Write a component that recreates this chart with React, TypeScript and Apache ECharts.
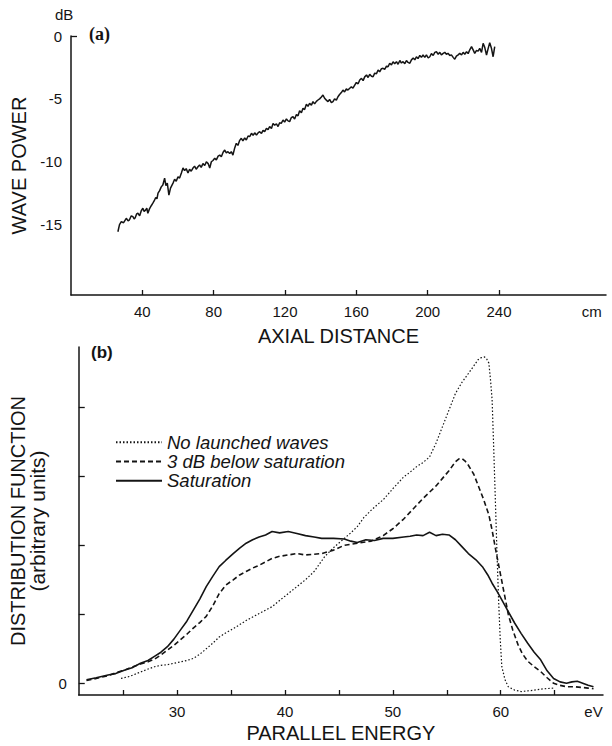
import React, { useEffect, useRef } from "react";
import * as echarts from "echarts";

const FONT = '"Liberation Sans", Arial, Helvetica, sans-serif';
const INK = "#141414";

// ---- panel (a) ----
const axialTicks = [40, 80, 120, 160, 200, 240];
const axialUnitPos = 292;
const dbLabels = [0, -5, -10, -15];
const dbTicks = [0];

// [axial distance (cm), wave power (dB)]
const wavePower: [number, number][] = [
  [26.3, -15.57], [27.2, -15.0], [28.2, -14.77], [29.5, -14.85], [31.0, -14.5], [32.0, -14.7],
  [32.8, -14.62], [33.8, -14.3], [34.7, -14.37], [35.4, -14.55], [36.0, -14.45], [36.8, -14.15],
  [37.5, -14.1], [38.5, -14.3], [39.4, -13.9], [40.3, -13.7], [41.0, -13.95], [41.8, -13.85],
  [42.5, -13.7], [43.1, -14.1], [44.0, -13.75], [45.0, -13.5], [45.9, -13.3], [46.7, -13.1],
  [47.5, -12.85], [48.2, -12.95], [48.8, -12.5], [49.7, -12.3], [50.6, -12.0], [51.5, -11.85],
  [52.5, -11.3], [53.2, -11.9], [54.0, -11.7], [54.9, -12.65], [55.8, -12.1], [57.2, -11.7],
  [58.1, -11.4], [59.0, -11.55], [60.0, -11.2], [60.9, -11.3], [61.9, -10.9], [62.8, -10.5],
  [63.7, -10.7], [64.6, -10.55], [65.6, -10.9], [66.5, -10.6], [67.4, -10.75], [68.4, -10.5],
  [69.3, -10.35], [70.2, -10.6], [71.2, -10.4], [72.1, -10.26], [73.0, -10.45], [74.0, -10.15],
  [75.0, -10.3], [75.9, -10.0], [76.9, -10.15], [77.8, -10.5], [78.7, -10.0], [79.6, -9.9],
  [80.6, -9.73], [81.5, -9.85], [82.5, -9.55], [83.4, -9.47], [84.3, -9.6], [85.3, -9.25],
  [86.2, -9.07], [87.1, -9.3], [88.0, -9.2], [89.0, -9.35], [89.9, -9.2], [90.8, -9.47],
  [91.8, -8.9], [92.7, -8.54], [93.6, -8.7], [94.6, -8.3], [95.5, -8.14], [96.4, -8.35],
  [97.4, -8.1], [98.3, -8.27], [99.3, -7.95], [100.2, -8.0], [101.2, -7.74], [102.1, -7.9],
  [103.0, -7.7], [104.0, -7.88], [104.9, -7.7], [105.8, -7.61], [106.8, -7.75], [107.7, -7.5],
  [108.6, -7.6], [109.6, -7.34], [110.5, -7.45], [111.4, -7.2], [112.4, -7.35], [113.3, -6.95],
  [114.2, -7.1], [115.2, -6.98], [116.1, -7.2], [117.0, -6.9], [117.9, -6.95], [118.9, -6.68],
  [119.8, -6.85], [120.8, -6.6], [121.7, -6.75], [122.6, -6.81], [123.5, -6.5], [124.5, -6.42],
  [125.4, -6.6], [126.4, -6.25], [127.3, -6.35], [128.2, -5.95], [129.2, -6.1], [130.1, -5.75],
  [131.0, -5.85], [132.0, -5.42], [132.9, -5.6], [133.8, -5.35], [134.8, -5.5], [135.7, -5.22],
  [136.6, -5.4], [137.6, -5.2], [138.5, -5.09], [139.4, -5.0], [140.4, -4.85], [141.3, -4.69],
  [142.2, -4.95], [143.2, -5.1], [144.1, -5.22], [145.0, -5.05], [146.0, -5.3], [146.9, -5.22],
  [147.8, -5.0], [148.8, -5.1], [149.7, -4.83], [150.6, -4.65], [151.6, -4.5], [152.5, -4.3],
  [153.4, -4.45], [154.4, -4.2], [155.3, -4.3], [156.3, -4.16], [157.2, -4.05], [158.1, -4.15],
  [159.1, -3.9], [160.0, -3.7], [161.0, -3.8], [161.9, -3.5], [162.9, -3.37], [163.8, -3.55],
  [164.7, -3.25], [165.7, -3.1], [166.6, -3.3], [167.5, -3.05], [168.5, -3.2], [169.4, -3.24],
  [170.3, -2.95], [171.3, -3.0], [172.2, -2.7], [173.1, -2.85], [174.1, -2.6], [175.0, -2.57],
  [175.9, -2.65], [176.9, -2.4], [177.8, -2.45], [178.7, -2.17], [179.7, -2.3], [180.6, -2.05],
  [181.5, -2.2], [182.5, -2.04], [183.4, -2.25], [184.4, -1.95], [185.3, -2.15], [186.2, -2.04],
  [187.2, -2.2], [188.1, -1.95], [189.0, -2.1], [190.0, -2.17], [190.9, -1.9], [191.9, -1.75],
  [192.8, -1.9], [193.7, -1.65], [194.6, -1.8], [195.6, -1.55], [196.5, -1.7], [197.4, -1.51],
  [198.4, -1.7], [199.3, -1.5], [200.3, -1.75], [201.2, -1.65], [202.1, -1.4], [203.1, -1.55],
  [204.0, -1.3], [204.9, -1.25], [205.9, -1.45], [206.8, -1.3], [207.7, -1.5], [208.7, -1.38],
  [209.6, -1.3], [210.5, -1.45], [211.4, -1.38], [212.4, -1.55], [213.3, -1.5], [214.3, -1.7],
  [215.2, -1.85], [216.1, -1.6], [217.1, -1.5], [218.0, -1.38], [219.0, -1.5], [219.9, -1.3],
  [220.8, -1.45], [221.8, -1.25], [222.7, -1.4], [223.6, -1.1], [224.6, -0.85], [225.5, -1.1],
  [226.4, -1.38], [227.4, -1.15], [228.3, -1.2], [229.2, -0.98], [230.2, -1.3], [231.1, -0.58],
  [232.0, -0.9], [233.0, -1.51], [233.9, -1.0], [234.8, -0.53], [235.8, -1.0], [236.7, -1.65],
  [237.2, -1.2], [237.6, -0.85],
];

// ---- panel (b) ----
const energyTicks = [25, 30, 35, 40, 45, 50, 55, 60, 65];
const energyLabels = [30, 40, 50, 60];
const energyUnitPos = 68.6;
const distTicks = [0, 1, 2, 3, 4];
const distLabels = [0];
const seriesNames = ["No launched waves", "3 dB below saturation", "Saturation"];

// [parallel energy (eV), distribution function (arb.)]
const noWaves: [number, number][] = [
  [24.8, 0.07], [25.6, 0.1], [26.4, 0.15], [27.2, 0.2], [27.9, 0.24], [28.5, 0.26],
  [29.1, 0.27], [29.7, 0.29], [30.3, 0.31], [30.9, 0.33], [31.5, 0.36], [32.1, 0.42],
  [32.7, 0.5], [33.3, 0.58], [33.9, 0.67], [34.5, 0.73], [35.2, 0.79], [35.8, 0.85],
  [36.4, 0.91], [37.0, 0.96], [37.6, 1.01], [38.2, 1.06], [38.8, 1.11], [39.5, 1.2],
  [40.3, 1.3], [41.1, 1.4], [41.9, 1.5], [42.7, 1.62], [43.7, 1.84], [44.6, 1.98],
  [45.5, 2.1], [46.1, 2.18], [46.7, 2.27], [47.3, 2.4], [48.0, 2.51], [48.5, 2.58],
  [49.1, 2.66], [50.0, 2.82], [51.0, 2.99], [51.6, 3.06], [52.2, 3.14], [52.8, 3.2],
  [53.4, 3.28], [54.0, 3.48], [54.6, 3.72], [55.2, 3.96], [55.8, 4.2], [56.4, 4.36],
  [57.0, 4.49], [57.5, 4.6], [57.9, 4.69], [58.2, 4.72], [58.5, 4.73], [58.7, 4.7],
  [58.9, 4.64], [59.05, 4.4], [59.2, 4.11], [59.35, 3.4], [59.5, 2.66], [59.65, 1.9],
  [59.8, 1.21], [59.95, 0.65], [60.1, 0.24], [60.4, 0.05], [60.7, -0.05], [61.3, -0.1],
  [61.9, -0.12], [62.5, -0.11], [63.1, -0.1], [64.0, -0.08], [64.9, -0.07],
];

const belowSat: [number, number][] = [
  [21.6, 0.04], [22.5, 0.07], [23.6, 0.11], [24.3, 0.15], [25.1, 0.19], [25.9, 0.24],
  [26.6, 0.28], [27.3, 0.31], [27.9, 0.35], [28.5, 0.41], [29.1, 0.48], [29.7, 0.55],
  [30.3, 0.63], [30.9, 0.71], [31.5, 0.8], [32.1, 0.88], [32.7, 0.97], [33.3, 1.12],
  [33.9, 1.3], [34.5, 1.42], [35.2, 1.5], [35.8, 1.57], [36.4, 1.62], [37.0, 1.67],
  [37.6, 1.71], [38.2, 1.76], [38.8, 1.81], [39.5, 1.84], [40.3, 1.86], [41.1, 1.88],
  [41.9, 1.86], [42.7, 1.87], [43.4, 1.88], [44.5, 1.93], [45.5, 2.0], [46.7, 2.03],
  [48.0, 2.06], [49.1, 2.14], [50.0, 2.24], [51.0, 2.38], [51.6, 2.48], [52.2, 2.58],
  [52.8, 2.68], [53.4, 2.77], [54.0, 2.86], [54.6, 2.97], [55.2, 3.08], [55.8, 3.21],
  [56.1, 3.25], [56.4, 3.26], [56.7, 3.22], [57.0, 3.16], [57.5, 3.03], [57.9, 2.87],
  [58.4, 2.67], [58.9, 2.44], [59.2, 2.22], [59.5, 1.96], [59.8, 1.72], [60.1, 1.48],
  [60.4, 1.24], [60.7, 1.0], [61.1, 0.78], [61.6, 0.56], [62.0, 0.43], [62.5, 0.32],
  [63.1, 0.24], [63.7, 0.17], [64.3, 0.08], [64.9, 0.0], [65.5, -0.03], [66.1, -0.05],
  [66.8, -0.05], [67.5, -0.06], [68.1, -0.07], [68.6, -0.08],
];

const saturation: [number, number][] = [
  [21.6, 0.05], [22.5, 0.08], [23.6, 0.12], [24.3, 0.14], [25.1, 0.19], [25.9, 0.23],
  [26.6, 0.29], [27.3, 0.33], [27.9, 0.39], [28.5, 0.45], [29.1, 0.53], [29.7, 0.64],
  [30.3, 0.77], [30.9, 0.9], [31.5, 1.06], [32.1, 1.22], [32.7, 1.4], [33.3, 1.55],
  [33.9, 1.69], [34.5, 1.78], [35.2, 1.88], [35.8, 1.96], [36.4, 2.03], [37.0, 2.08],
  [37.6, 2.12], [38.2, 2.15], [38.8, 2.2], [39.5, 2.18], [40.3, 2.2], [41.1, 2.17],
  [41.9, 2.14], [42.7, 2.12], [43.4, 2.1], [44.5, 2.1], [45.5, 2.09], [46.1, 2.06],
  [46.7, 2.04], [47.5, 2.08], [48.3, 2.07], [49.1, 2.1], [50.0, 2.1], [51.0, 2.12],
  [51.6, 2.13], [52.2, 2.15], [52.8, 2.14], [53.4, 2.19], [54.0, 2.14], [54.6, 2.16],
  [55.2, 2.15], [55.8, 2.08], [56.4, 1.98], [57.0, 1.88], [57.7, 1.79], [58.3, 1.69],
  [58.8, 1.57], [59.2, 1.45], [59.7, 1.32], [60.1, 1.21], [60.7, 1.04], [61.3, 0.87],
  [61.9, 0.72], [62.5, 0.58], [63.1, 0.45], [63.7, 0.34], [64.3, 0.18], [64.9, 0.07],
  [65.5, 0.02], [66.1, 0.0], [66.6, 0.02], [67.1, 0.03], [67.6, 0.0], [68.1, -0.03],
  [68.6, -0.05],
];

export default function App() {
  const ref = useRef<HTMLDivElement>(null);

  useEffect(() => {
    if (!ref.current) return;
    const chart = echarts.init(ref.current, null, { renderer: "svg" });
    const axisLine = { show: true, onZero: false, lineStyle: { color: INK, width: 1.5 } };
    const labelStyle = { color: INK, fontSize: 15, fontFamily: FONT };
    const nameStyle = { color: INK, fontSize: 20, fontFamily: FONT };

    chart.setOption({
      animation: false,
      backgroundColor: "#ffffff",
      textStyle: { fontFamily: FONT, color: INK },
      grid: [
        { left: 71, right: 6, top: 36, bottom: 451 },
        { left: 70, right: 9, top: 347, bottom: 51 },
      ],
      legend: {
        data: seriesNames,
        orient: "vertical",
        left: 115,
        top: 432.7,
        itemWidth: 46,
        itemHeight: 12,
        itemGap: 0.3,
        padding: 0,
        selectedMode: false,
        itemStyle: { opacity: 0 },
        textStyle: {
          fontSize: 18.5,
          fontStyle: "italic",
          lineHeight: 18,
          color: INK,
          fontFamily: FONT,
        },
      },
      xAxis: [
        {
          gridIndex: 0,
          type: "value",
          min: 0,
          max: 300,
          axisLine,
          splitLine: { show: false },
          axisTick: { inside: true, length: 5, customValues: axialTicks, lineStyle: { color: INK, width: 1.3 } },
          axisLabel: {
            ...labelStyle,
            margin: 8.5,
            customValues: [...axialTicks, axialUnitPos],
            formatter: (v: number) => (v === axialUnitPos ? "cm" : String(v)),
          },
          name: "AXIAL DISTANCE",
          nameLocation: "middle",
          nameGap: 31,
          nameTextStyle: nameStyle,
        },
        {
          gridIndex: 1,
          type: "value",
          min: 20.88,
          max: 69.48,
          axisLine,
          splitLine: { show: false },
          axisTick: { inside: true, length: 5, customValues: energyTicks, lineStyle: { color: INK, width: 1.3 } },
          axisLabel: {
            ...labelStyle,
            margin: 8.5,
            customValues: [...energyLabels, energyUnitPos],
            formatter: (v: number) => (v === energyUnitPos ? "eV" : String(v)),
          },
          name: "PARALLEL ENERGY",
          nameLocation: "middle",
          nameGap: 27.5,
          nameTextStyle: nameStyle,
        },
      ],
      yAxis: [
        {
          gridIndex: 0,
          type: "value",
          min: -20.6,
          max: 0,
          axisLine,
          splitLine: { show: false },
          axisTick: { show: true, inside: true, length: 6, customValues: dbTicks, lineStyle: { color: INK, width: 1.3 } },
          axisLabel: { ...labelStyle, margin: 9, customValues: dbLabels },
          name: "WAVE POWER",
          nameLocation: "middle",
          nameGap: 31,
          nameTextStyle: nameStyle,
        },
        {
          gridIndex: 1,
          type: "value",
          min: -0.17,
          max: 4.874,
          axisLine,
          splitLine: { show: false },
          axisTick: { show: true, inside: true, length: 6, customValues: distTicks, lineStyle: { color: INK, width: 1.3 } },
          axisLabel: { ...labelStyle, margin: 12, customValues: distLabels },
          name: "{a|DISTRIBUTION FUNCTION}\n{b|(arbitrary units)}",
          nameLocation: "middle",
          nameGap: 14,
          nameTextStyle: {
            color: INK,
            fontFamily: FONT,
            rich: {
              a: { fontSize: 20, lineHeight: 19, fontFamily: FONT, color: INK },
              b: { fontSize: 21, lineHeight: 19, fontFamily: FONT, color: INK },
            },
          },
        },
      ],
      graphic: [
        {
          type: "text",
          left: 89,
          top: 25,
          style: { text: "(a)", font: 'bold 18px "Liberation Serif", serif', fill: INK },
        },
        {
          type: "text",
          left: 91,
          top: 344,
          style: { text: "(b)", font: `bold 17px ${FONT}`, fill: INK },
        },
        {
          type: "text",
          left: 55,
          top: 7,
          style: { text: "dB", font: `15px ${FONT}`, fill: INK },
        },
      ],
      series: [
        {
          type: "line",
          xAxisIndex: 0,
          yAxisIndex: 0,
          data: wavePower,
          symbol: "none",
          lineStyle: { color: INK, width: 1.5 },
          silent: true,
        },
        {
          name: seriesNames[0],
          type: "line",
          xAxisIndex: 1,
          yAxisIndex: 1,
          data: noWaves,
          symbol: "none",
          color: INK,
          lineStyle: { color: INK, width: 1.2, type: [1.5, 2] },
          z: 2,
        },
        {
          name: seriesNames[1],
          type: "line",
          xAxisIndex: 1,
          yAxisIndex: 1,
          data: belowSat,
          symbol: "none",
          color: INK,
          lineStyle: { color: INK, width: 1.6, type: [5, 3] },
          z: 3,
        },
        {
          name: seriesNames[2],
          type: "line",
          xAxisIndex: 1,
          yAxisIndex: 1,
          data: saturation,
          symbol: "none",
          color: INK,
          lineStyle: { color: INK, width: 1.6 },
          z: 4,
        },
      ],
    });

    return () => chart.dispose();
  }, []);

  return (
    <div
      ref={ref}
      style={{ position: "absolute", left: 0, top: 0, width: 612, height: 746, background: "#fff" }}
    />
  );
}
